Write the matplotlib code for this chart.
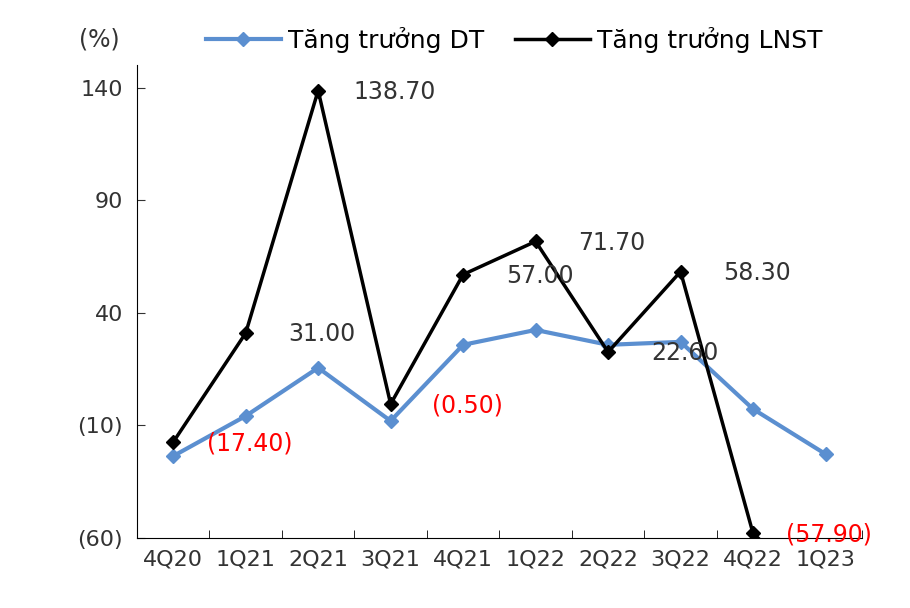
import matplotlib
matplotlib.use("Agg")
import matplotlib.pyplot as plt
import numpy as np

categories = ["4Q20","1Q21","2Q21","3Q21","4Q21","1Q22","2Q22","3Q22","4Q22","1Q23"]
dt_growth = [-23.6, -5.8, 15.6, -8.0, 25.8, 32.4, 25.8, 27.1, -2.7, -22.7]
lnst_growth = [-17.4, 31.0, 138.7, -0.5, 57.0, 71.7, 22.6, 58.3, -57.9, -88.0]
lnst_labels = ["(17.40)", "31.00", "138.70", "(0.50)", "57.00", "71.70", "22.60", "58.30", "(57.90)", None]
yticks = [-60, -10, 40, 90, 140]
ytick_labels = ["(60)", "(10)", "40", "90", "140"]

plt.rcParams['font.family'] = ['DejaVu Sans']
fig = plt.figure(figsize=(9.10, 6.08), dpi=100)
ax = fig.add_axes([0.1505, 0.115, 0.7965, 0.778])
x = np.arange(len(categories))
ax.plot(x, dt_growth, color="#5B8FD0", lw=3, marker="D", ms=7, label="Tăng trưởng DT", clip_on=True)
ax.plot(x, lnst_growth, color="black", lw=2.5, marker="D", ms=7, label="Tăng trưởng LNST", clip_on=True)
for xi, v, lab in zip(x, lnst_growth, lnst_labels):
    if lab is None:
        continue
    col = "#FF0000" if v < 0 else "#333333"
    ax.annotate(lab, (xi, v), xytext=(55, -1), textcoords="offset points",
                ha="center", va="center", fontsize=17, color=col, annotation_clip=False)
ax.set_xlim(-0.5, len(categories) - 0.5)
ax.set_ylim(-60, 150)
ax.set_yticks(yticks)
ax.set_yticklabels(ytick_labels)
ax.set_xticks(x)
ax.set_xticklabels(categories)
ax.set_xticks(np.arange(-0.5, len(categories), 1), minor=True)
ax.tick_params(axis="x", which="major", length=0, labelsize=16, colors="#333333", pad=8)
ax.tick_params(axis="x", which="minor", length=6, direction="in")
ax.tick_params(axis="y", labelsize=16, colors="#333333", direction="in", length=6, pad=10)
for s in ["top", "right"]:
    ax.spines[s].set_visible(False)
fig.text(0.087, 0.935, "(%)", fontsize=17, color="#333333", va="center")
fig.legend(loc="center", bbox_to_anchor=(0.565, 0.935), ncol=2, frameon=False, fontsize=18,
           handlelength=3, columnspacing=1.2, handletextpad=0.3)
fig.savefig("out.png", dpi=100)
